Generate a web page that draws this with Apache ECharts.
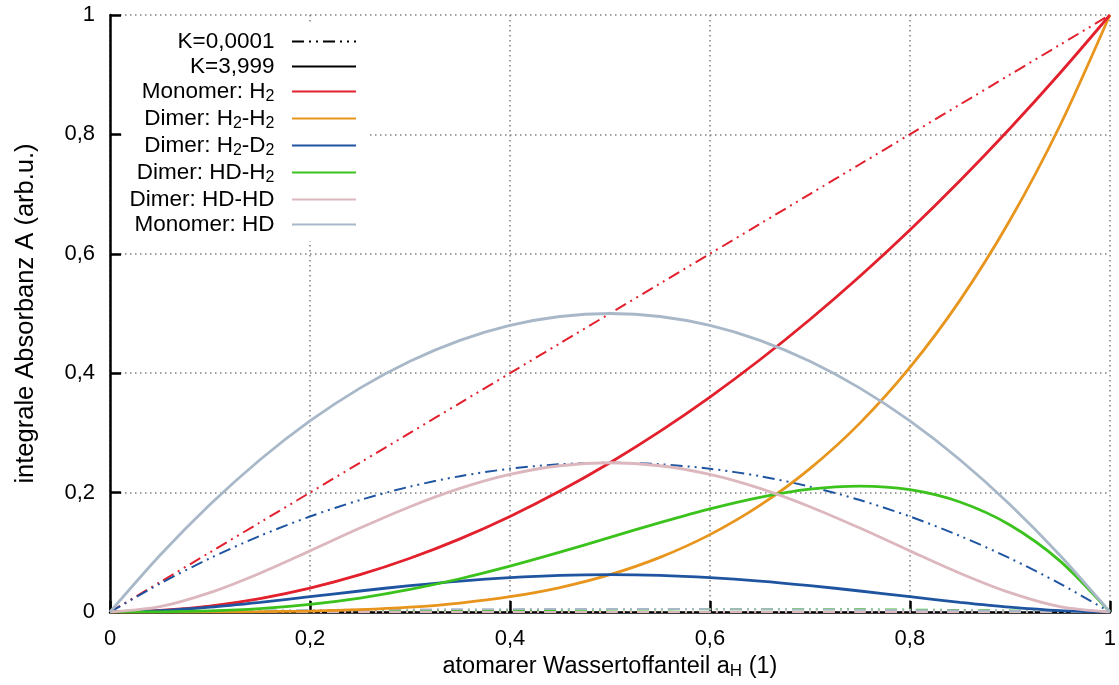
<!DOCTYPE html>
<html>
<head>
<meta charset="utf-8">
<script src="https://cdn.jsdelivr.net/npm/echarts@6/dist/echarts.min.js"></script>
<style>
  html, body { margin: 0; padding: 0; background: #fff; }
  #chart { width: 1119px; height: 685px; }
</style>
</head>
<body>
<div id="chart"></div>
<script>
// atomarer Wasserstoffanteil a_H
const xs = [0, 0.05, 0.1, 0.15, 0.2, 0.25, 0.3, 0.35, 0.4, 0.45, 0.5, 0.55, 0.6, 0.65, 0.7, 0.75, 0.8, 0.85, 0.9, 0.95, 1];

// K = 3,999 (durchgezogen)
const monoH2 = [0, 0.0025, 0.01, 0.0225, 0.04, 0.0625, 0.09, 0.1225, 0.16, 0.2025, 0.25, 0.3025, 0.36, 0.4225, 0.49, 0.5625, 0.64, 0.7225, 0.81, 0.9025, 1];
const dimH2H2 = [0, 0, 0.0001, 0.0005, 0.0016, 0.0039, 0.0081, 0.015, 0.0256, 0.041, 0.0625, 0.0915, 0.1296, 0.1785, 0.2401, 0.3164, 0.4096, 0.522, 0.6561, 0.8145, 1];
const dimH2D2 = [0, 0.0023, 0.0081, 0.0163, 0.0256, 0.0352, 0.0441, 0.0518, 0.0576, 0.0613, 0.0625, 0.0613, 0.0576, 0.0518, 0.0441, 0.0352, 0.0256, 0.0163, 0.0081, 0.0023, 0];
const dimHDH2 = [0, 0.0002, 0.0018, 0.0057, 0.0128, 0.0234, 0.0378, 0.0557, 0.0768, 0.1002, 0.125, 0.1497, 0.1728, 0.1922, 0.2058, 0.2109, 0.2048, 0.1842, 0.1458, 0.0857, 0];
const dimHDHD = [0, 0.009, 0.0324, 0.065, 0.1024, 0.1406, 0.1764, 0.207, 0.2304, 0.245, 0.25, 0.245, 0.2304, 0.207, 0.1764, 0.1406, 0.1024, 0.065, 0.0324, 0.009, 0];
const monoHD = [0, 0.095, 0.18, 0.255, 0.32, 0.375, 0.42, 0.455, 0.48, 0.495, 0.5, 0.495, 0.48, 0.455, 0.42, 0.375, 0.32, 0.255, 0.18, 0.095, 0];

// K = 0,0001 (strich-punkt)
const kMonoH2 = [0, 0.05, 0.1, 0.15, 0.2, 0.25, 0.3, 0.35, 0.4, 0.45, 0.5, 0.55, 0.6, 0.65, 0.7, 0.75, 0.8, 0.85, 0.9, 0.95, 1];
const kDimH2H2 = [0, 0.0025, 0.01, 0.0225, 0.04, 0.0625, 0.09, 0.1225, 0.16, 0.2025, 0.25, 0.3025, 0.36, 0.4225, 0.49, 0.5625, 0.64, 0.7225, 0.81, 0.9025, 1];
const kDimH2D2 = [0, 0.0475, 0.09, 0.1275, 0.16, 0.1875, 0.21, 0.2275, 0.24, 0.2475, 0.25, 0.2475, 0.24, 0.2275, 0.21, 0.1875, 0.16, 0.1275, 0.09, 0.0475, 0];
const kDimHDH2 = [0, 0, 0.0002, 0.0005, 0.001, 0.0015, 0.002, 0.0025, 0.003, 0.0035, 0.004, 0.0043, 0.0046, 0.0047, 0.0047, 0.0045, 0.004, 0.0033, 0.0024, 0.0013, 0];
const kDimHDHD = [0, 0, 0, 0, 0, 0, 0, 0, 0, 0, 0, 0, 0, 0, 0, 0, 0, 0, 0, 0, 0];
const kMonoHD = [0, 0.001, 0.0018, 0.0026, 0.0032, 0.0038, 0.0042, 0.0046, 0.0048, 0.005, 0.005, 0.005, 0.0048, 0.0046, 0.0042, 0.0038, 0.0032, 0.0026, 0.0018, 0.001, 0];

const cRed = '#e2202e', cOrange = '#e8951e', cBlue = '#1f55a0', cGreen = '#3cc21c', cPink = '#dcb7bd', cGray = '#a8b8c8';
const dashDot = [12, 5, 2, 5, 2, 5];
const font = '"Liberation Sans", Arial, sans-serif';

const legendLabels = {
  'K=0,0001': '{k|K=0,0001  }',
  'K=3,999': '{k|K=3,999  }',
  'Monomer: H2': '{n|Monomer: H}{s|2}{n|  }',
  'Dimer: H2-H2': '{n|Dimer: H}{s|2}{n|-H}{s|2}{n|  }',
  'Dimer: H2-D2': '{n|Dimer: H}{s|2}{n|-D}{s|2}{n|  }',
  'Dimer: HD-H2': '{n|Dimer: HD-H}{s|2}{n|  }',
  'Dimer: HD-HD': '{n|Dimer: HD-HD  }',
  'Monomer: HD': '{n|Monomer: HD  }'
};

const pts = ys => xs.map((x, i) => [x, ys[i]]);
const line = (name, ys, color, type, width) => ({
  name, type: 'line', data: pts(ys), symbol: 'none', smooth: 0.3,
  lineStyle: { color, width, type }, itemStyle: { color }
});

const richText = {
  k: { fontSize: 22.5, fontFamily: font, color: '#000' },
  n: { fontSize: 22.5, padding: [3, 0, 3, 0], fontFamily: font, color: '#000' },
  s: { fontSize: 16, padding: [11, 0, 0, 0], fontFamily: font, color: '#000' }
};
const tickFmt = v => String(+v.toFixed(1)).replace('.', ',');

const chart = echarts.init(document.getElementById('chart'));
chart.setOption({
  animation: false,
  backgroundColor: '#fff',
  textStyle: { fontFamily: font },
  grid: { left: 110, right: 8, top: 15, bottom: 73 },
  legend: {
    orient: 'vertical', align: 'right', right: 750, top: 25,
    padding: [5, 12, 5, 6], itemGap: 2, itemWidth: 64, itemHeight: 14,
    backgroundColor: '#fff',
    itemStyle: { opacity: 0 },
    data: Object.keys(legendLabels),
    formatter: n => legendLabels[n],
    textStyle: { color: '#000', fontFamily: font, rich: richText }
  },
  xAxis: {
    type: 'value', min: 0, max: 1, interval: 0.2,
    name: '{n|atomarer Wassertoffanteil a}{s|H}{n| (1)}',
    nameLocation: 'middle', nameGap: 42,
    nameTextStyle: { rich: {
      n: { fontSize: 23.5, lineHeight: 26, fontFamily: font, color: '#000' },
      s: { fontSize: 17, lineHeight: 10, verticalAlign: 'bottom', fontFamily: font, color: '#000' }
    } },
    axisLine: { show: true, lineStyle: { color: '#000', width: 2.5 } },
    axisTick: { show: true, inside: true, length: 11, lineStyle: { color: '#000', width: 2.5 } },
    axisLabel: { color: '#000', fontSize: 22, margin: 16, fontFamily: font, formatter: tickFmt },
    splitLine: { show: true, lineStyle: { color: '#808080', width: 1.5, type: [1.5, 3.5] } }
  },
  yAxis: {
    type: 'value', min: 0, max: 1, interval: 0.2,
    name: 'integrale Absorbanz A (arb.u.)',
    nameLocation: 'middle', nameGap: 71,
    nameTextStyle: { fontSize: 25.5, color: '#000', fontFamily: font },
    axisLine: { show: true, lineStyle: { color: '#000', width: 2.5 } },
    axisTick: { show: true, inside: true, length: 11, lineStyle: { color: '#000', width: 2.5 } },
    axisLabel: { color: '#000', fontSize: 22, margin: 15, fontFamily: font, formatter: tickFmt },
    splitLine: { show: true, lineStyle: { color: '#808080', width: 1.5, type: [1.5, 3.5] } }
  },
  series: [
    { name: 'K=0,0001', type: 'line', data: [], symbol: 'none', lineStyle: { color: '#000', width: 2, type: dashDot }, itemStyle: { color: '#000' } },
    { name: 'K=3,999', type: 'line', data: [], symbol: 'none', lineStyle: { color: '#000', width: 2.8 }, itemStyle: { color: '#000' } },
    line('K: Monomer H2', kMonoH2, cRed, dashDot, 2),
    line('K: Dimer H2-H2', kDimH2H2, cOrange, dashDot, 2),
    line('K: Dimer H2-D2', kDimH2D2, cBlue, dashDot, 2),
    line('K: Dimer HD-H2', kDimHDH2, cGreen, dashDot, 2),
    line('K: Dimer HD-HD', kDimHDHD, cPink, dashDot, 2),
    line('K: Monomer HD', kMonoHD, cGray, dashDot, 2),
    line('Dimer: H2-H2', dimH2H2, cOrange, 'solid', 2.8),
    line('Monomer: H2', monoH2, cRed, 'solid', 2.8),
    line('Dimer: H2-D2', dimH2D2, cBlue, 'solid', 2.8),
    line('Dimer: HD-H2', dimHDH2, cGreen, 'solid', 2.8),
    line('Dimer: HD-HD', dimHDHD, cPink, 'solid', 2.8),
    line('Monomer: HD', monoHD, cGray, 'solid', 2.8)
  ]
});
</script>
</body>
</html>
